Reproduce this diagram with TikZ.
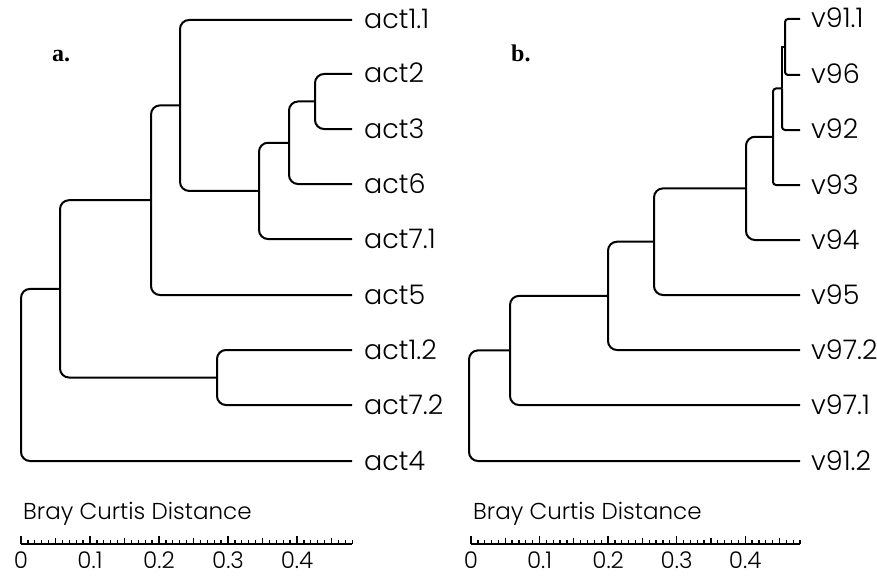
\documentclass[tikz,border=0pt]{standalone}
\usepackage{fontspec}
\setmainfont{Poppins}
\newfontfamily\lightfont{Poppins Light}
\newfontfamily\panelfont{Liberation Serif}
\begin{document}
\begin{tikzpicture}[x=1pt,y=-1pt,
  branch/.style={line width=2pt, rounded corners=9pt},
  smallbranch/.style={line width=2pt, rounded corners=3pt},
  leaflabel/.style={anchor=base west, inner sep=0pt, font=\lightfont\fontsize{27}{27}\selectfont},
  axtitle/.style={anchor=base west, inner sep=0pt, font=\lightfont\fontsize{23}{23}\selectfont},
  ticklabel/.style={anchor=base, inner sep=0pt, text depth=0pt, font=\lightfont\fontsize{23}{23}\selectfont},
  paneltag/.style={anchor=base west, inner sep=0pt, font=\panelfont\bfseries\fontsize{24}{24}\selectfont},
  axisline/.style={line width=1.8pt},
  tickline/.style={line width=1.3pt}]
\useasboundingbox (0,0) rectangle (877,575);

% ---------------- panel a ----------------
\node[paneltag] (taga) at (52,62) {a.};
\foreach \n/\y/\t in {a1/20/act1.1, a2/74/act2, a3/129/act3, a6/184/act6, a71/239/act7.1,
                      a5/295/act5, a12/350/act1.2, a72/405/act7.2, a4/461/act4}{
  \coordinate (\n) at (352,\y);
  \node[leaflabel] (l\n) at (364,\y+9) {\t};
}
\coordinate (n23)   at (315,101.5);
\coordinate (n236)  at (289,142.75);
\coordinate (n2367) at (259,190.9);
\coordinate (n1)    at (180,105.4);
\coordinate (n5)    at (151,200.2);
\coordinate (n127)  at (217,377.5);
\coordinate (n8)    at (60,288.9);
\coordinate (nroot) at (21,374.9);

\draw[branch] (a2) -| (n23) |- (a3);
\draw[branch] (n23) -| (n236) |- (a6);
\draw[branch] (n236) -| (n2367) |- (a71);
\draw[branch] (a1) -| (n1) |- (n2367);
\draw[branch] (n1) -| (n5) |- (a5);
\draw[branch] (a12) -| (n127) |- (a72);
\draw[branch] (n5) -| (n8) |- (n127);
\draw[branch] (n8) -| (nroot) |- (a4);

% ---------------- panel b ----------------
\node[paneltag] (tagb) at (511,62) {b.};
\foreach \n/\y/\t in {b1/19/v91.1, b96/75/v96, b92/130/v92, b93/185/v93, b94/240/v94,
                      b95/295/v95, b972/350/v97.2, b971/405/v97.1, b912/461/v91.2}{
  \coordinate (\n) at (800,\y);
  \node[leaflabel] (l\n) at (811,\y+9) {\t};
}
\coordinate (m1) at (785,47);
\coordinate (m2) at (782,88.5);
\coordinate (m3) at (773,136.75);
\coordinate (m4) at (746,188.4);
\coordinate (m5) at (654,241.7);
\coordinate (m6) at (608,295.9);
\coordinate (m7) at (510,350.4);
\coordinate (mroot) at (469,405.7);

\draw[smallbranch] (b1) -| (m1) |- (b96);
\draw[line width=2pt] (m1) -| (m2);
\draw[smallbranch] (m2) |- (b92);
\draw[smallbranch] (m2) -| (m3) |- (b93);
\draw[branch] (m3) -| (m4) |- (b94);
\draw[branch] (m4) -| (m5) |- (b95);
\draw[branch] (m5) -| (m6) |- (b972);
\draw[branch] (m6) -| (m7) |- (b971);
\draw[branch] (m7) -| (mroot) |- (b912);

% ---------------- scale bars ----------------
\foreach \xo/\u/\s in {21/6.90/a, 471/6.854/b}{
  \node[axtitle] (title\s) at (\xo+2,519) {Bray Curtis Distance};
  \coordinate (ax\s0) at (\xo,544);
  \coordinate (ax\s1) at (\xo+48*\u,544);
  \draw[axisline] (ax\s0) -- (ax\s1);
  \foreach \i [evaluate=\i as \len using {4+2*(mod(\i,5)==0)+2*(mod(\i,10)==0)}] in {0,...,48}{
    \draw[tickline] (\xo+\i*\u,544) -- ++(0,-\len);
  }
  \foreach \v/\lab in {0/0, 1/0.1, 2/0.2, 3/0.3, 4/0.4}{
    \node[ticklabel] (t\s\v) at (\xo+\v*\u*10,568) {\lab};
  }
}
\end{tikzpicture}
\end{document}
